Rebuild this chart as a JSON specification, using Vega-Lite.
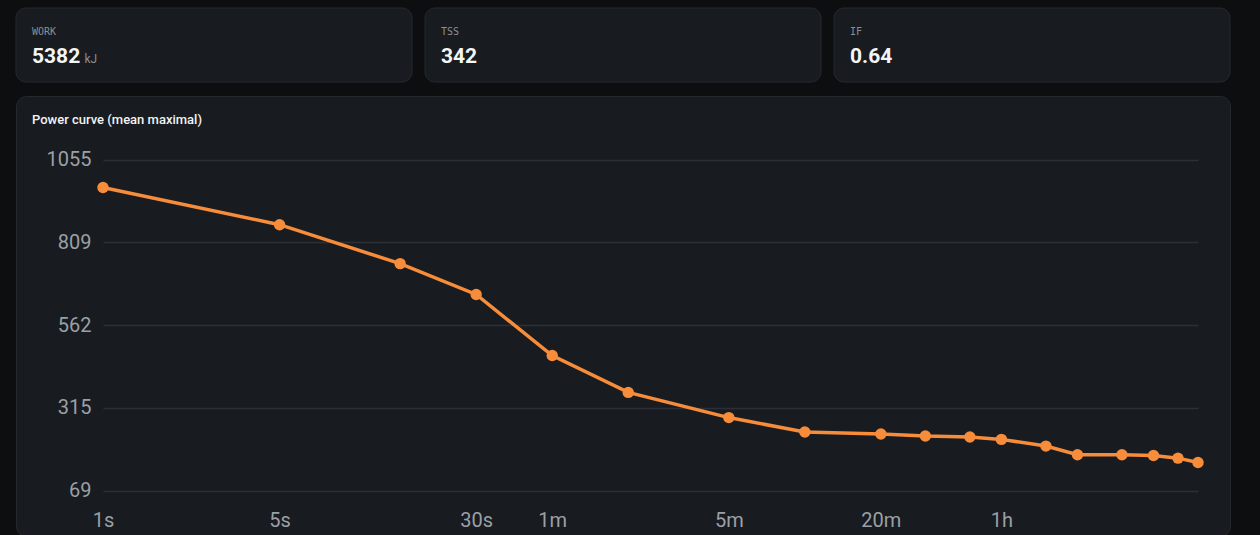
{
  "$schema": "https://vega.github.io/schema/vega-lite/v6.json",
  "background": "#0c0e10",
  "padding": {"left": 15, "top": 7, "right": 31, "bottom": 0},
  "bounds": "flush",
  "config": {
    "font": "Roboto",
    "view": {"stroke": null}
  },
  "spacing": 14,
  "vconcat": [
    {
      "width": 1214,
      "height": 74,
      "data": {
        "values": [
          {"metric": "WORK", "value": "5382", "unit": "kJ"},
          {"metric": "TSS", "value": "342", "unit": ""},
          {"metric": "IF", "value": "0.64", "unit": ""}
        ]
      },
      "encoding": {
        "x": {
          "field": "metric",
          "type": "nominal",
          "sort": null,
          "axis": null,
          "scale": {"paddingInner": 0.03178, "paddingOuter": 0}
        }
      },
      "layer": [
        {
          "mark": {"type": "rect", "fill": "#181b1f", "stroke": "#25292e", "strokeWidth": 1, "cornerRadius": 10}
        },
        {
          "mark": {"type": "text", "align": "left", "baseline": "alphabetic", "dx": 16, "dy": -10, "font": "DejaVu Sans Mono", "fontSize": 10, "fill": "#8a8f96"},
          "encoding": {
            "x": {"field": "metric", "type": "nominal", "sort": null, "bandPosition": 0, "axis": null},
            "text": {"field": "metric"}
          }
        },
        {
          "mark": {"type": "text", "align": "left", "baseline": "alphabetic", "dx": 16, "dy": 18.3, "fontSize": 21, "fontWeight": "bold", "fill": "#f4f5f6"},
          "encoding": {
            "x": {"field": "metric", "type": "nominal", "sort": null, "bandPosition": 0, "axis": null},
            "text": {"field": "value"}
          }
        },
        {
          "mark": {"type": "text", "align": "left", "baseline": "alphabetic", "dx": 68.5, "dy": 18.3, "fontSize": 12, "fill": "#8a8f96"},
          "encoding": {
            "x": {"field": "metric", "type": "nominal", "sort": null, "bandPosition": 0, "axis": null},
            "text": {"field": "unit"}
          }
        }
      ]
    },
    {
      "width": 1214,
      "height": 440,
      "view": {"fill": "#181b1f", "stroke": "#25292e", "strokeWidth": 1, "cornerRadius": 10},
      "title": {
        "text": "Power curve (mean maximal)",
        "anchor": "start",
        "frame": "group",
        "orient": "top",
        "baseline": "alphabetic",
        "offset": -40.5,
        "dx": 16,
        "font": "Roboto",
        "fontSize": 13,
        "fontWeight": 500,
        "color": "#f2f3f5"
      },
      "data": {
        "values": [
          {"sec": 1, "watts": 972},
          {"sec": 5, "watts": 861},
          {"sec": 15, "watts": 745},
          {"sec": 30, "watts": 653},
          {"sec": 60, "watts": 471},
          {"sec": 120, "watts": 361},
          {"sec": 300, "watts": 286},
          {"sec": 600, "watts": 243},
          {"sec": 1200, "watts": 237},
          {"sec": 1800, "watts": 231},
          {"sec": 2700, "watts": 228},
          {"sec": 3600, "watts": 221},
          {"sec": 5400, "watts": 201},
          {"sec": 7200, "watts": 175},
          {"sec": 10800, "watts": 175},
          {"sec": 14400, "watts": 173},
          {"sec": 18000, "watts": 165},
          {"sec": 21600, "watts": 152}
        ]
      },
      "encoding": {
        "x": {
          "field": "sec",
          "type": "quantitative",
          "scale": {"type": "log", "domain": [1, 21600], "range": [87, 1182], "nice": false},
          "axis": {
            "title": null,
            "orient": "bottom",
            "offset": -45,
            "grid": false,
            "domain": false,
            "ticks": false,
            "tickSize": 0,
            "values": [1, 5, 30, 60, 300, 1200, 3600],
            "labelExpr": "datum.value == 1 ? '1s' : datum.value == 5 ? '5s' : datum.value == 30 ? '30s' : datum.value == 60 ? '1m' : datum.value == 300 ? '5m' : datum.value == 1200 ? '20m' : '1h'",
            "labelBaseline": "alphabetic",
            "labelPadding": 35.5,
            "labelFlush": false,
            "labelOverlap": false,
            "labelBound": false,
            "labelFont": "Roboto",
            "labelFontSize": 20,
            "labelColor": "#9ba0a6"
          }
        },
        "y": {
          "field": "watts",
          "type": "quantitative",
          "scale": {"domain": [68.6, 1055.4], "range": [394.5, 63.5], "zero": false, "nice": false},
          "axis": {
            "title": null,
            "orient": "left",
            "offset": -75,
            "domain": false,
            "ticks": false,
            "tickSize": 0,
            "labelPadding": 0,
            "values": [68.6, 315.3, 562, 808.7, 1055.4],
            "format": ".0f",
            "labelOverlap": false,
            "labelBound": false,
            "labelFlush": false,
            "labelFont": "Roboto",
            "labelFontSize": 20,
            "labelColor": "#9ba0a6",
            "grid": true,
            "gridColor": "#2c3036",
            "gridWidth": 1.5
          }
        }
      },
      "layer": [
        {
          "mark": {"type": "line", "color": "#f78c3a", "strokeWidth": 3.5}
        },
        {
          "mark": {"type": "point", "filled": true, "size": 130, "color": "#f78c3a", "opacity": 1}
        }
      ]
    }
  ]
}
